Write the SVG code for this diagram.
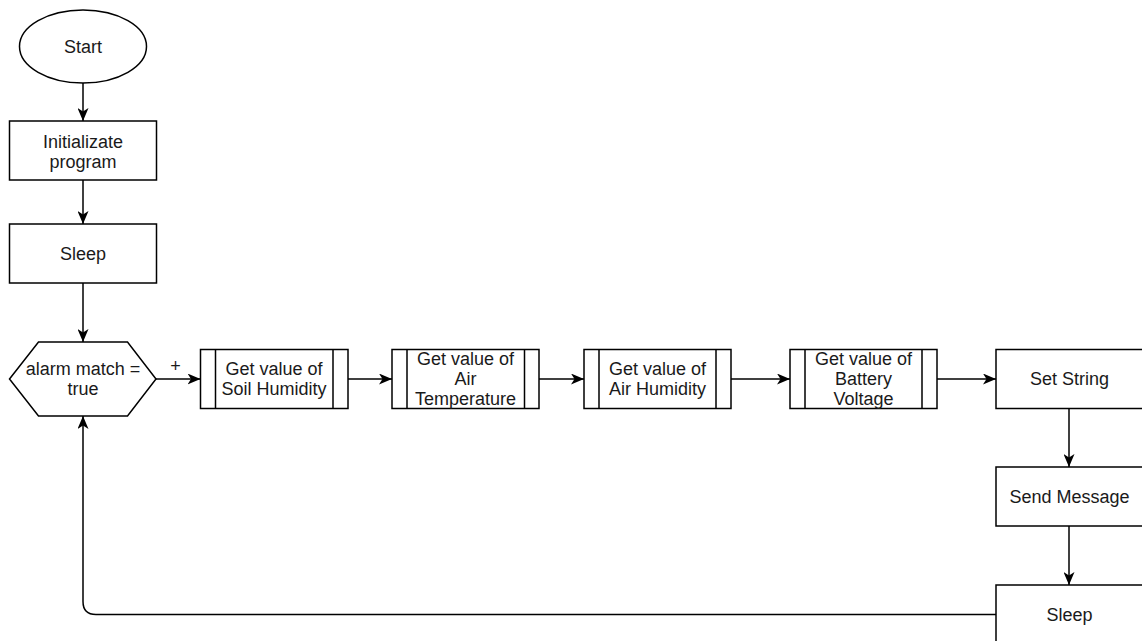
<svg xmlns="http://www.w3.org/2000/svg" width="1142" height="641" viewBox="0 0 1142 641">
  <defs>
    <style>
      .shape { fill: #ffffff; stroke: #000000; stroke-width: 1.5; }
      .inner { fill: none; stroke: #000000; stroke-width: 1.5; }
      .edge { fill: none; stroke: #000000; stroke-width: 1.5; }
      .label { font-family: "Liberation Sans", Arial, Helvetica, sans-serif; font-size: 18px; fill: #1a1a1a; text-anchor: middle; }
      .edge-label { font-family: "Liberation Sans", Arial, Helvetica, sans-serif; font-size: 18px; fill: #1a1a1a; text-anchor: middle; }
    </style>
    <marker id="arrow" markerUnits="userSpaceOnUse" markerWidth="13" markerHeight="11" viewBox="0 0 13 11" refX="13" refY="5.5" orient="auto">
      <path d="M0,0 L13,5.5 L0,11 L3.5,5.5 Z" fill="#000000"/>
    </marker>
  </defs>
  <rect width="1142" height="641" fill="#ffffff"/>

  <!-- connectors -->
  <g id="connectors">
    <path class="edge" d="M83,83 V121" marker-end="url(#arrow)"/>
    <path class="edge" d="M83,180 V224" marker-end="url(#arrow)"/>
    <path class="edge" d="M83,283 V342" marker-end="url(#arrow)"/>
    <path class="edge" d="M156,379 H200.5" marker-end="url(#arrow)"/>
    <text class="edge-label" x="175.5" y="372">+</text>
    <path class="edge" d="M348,379 H392" marker-end="url(#arrow)"/>
    <path class="edge" d="M539,379 H584" marker-end="url(#arrow)"/>
    <path class="edge" d="M731,379 H790" marker-end="url(#arrow)"/>
    <path class="edge" d="M937,379 H996" marker-end="url(#arrow)"/>
    <path class="edge" d="M1069,408 V467" marker-end="url(#arrow)"/>
    <path class="edge" d="M1069,526 V585" marker-end="url(#arrow)"/>
    <path class="edge" d="M996,614.5 H96 Q83,614.5 83,601.5 V416" marker-end="url(#arrow)"/>
  </g>

  <!-- start terminator -->
  <g id="start">
    <ellipse class="shape" cx="83" cy="46.5" rx="63.5" ry="36.5"/>
    <text class="label" x="83" y="53">Start</text>
  </g>

  <g id="init">
    <rect class="shape" x="9.5" y="121" width="147" height="59"/>
    <text class="label" x="83" y="148">Initializate</text>
    <text class="label" x="83" y="168">program</text>
  </g>

  <g id="sleep1">
    <rect class="shape" x="9.5" y="224" width="147" height="59"/>
    <text class="label" x="83" y="260">Sleep</text>
  </g>

  <!-- alarm check -->
  <g id="alarm">
    <polygon class="shape" points="9.5,379 38.5,342 127.5,342 156,379 127.5,416 38.5,416"/>
    <text class="label" x="83" y="375">alarm match =</text>
    <text class="label" x="83" y="395">true</text>
  </g>

  <!-- sensor subprocesses -->
  <g id="soil">
    <rect class="shape" x="200.5" y="349.5" width="147.5" height="59"/>
    <path class="inner" d="M215.5,349.5 V408.5 M333,349.5 V408.5"/>
    <text class="label" x="274" y="375">Get value of</text>
    <text class="label" x="274" y="395">Soil Humidity</text>
  </g>

  <g id="air-temp">
    <rect class="shape" x="392" y="349.5" width="147" height="59"/>
    <path class="inner" d="M407,349.5 V408.5 M524.5,349.5 V408.5"/>
    <text class="label" x="465.5" y="365">Get value of</text>
    <text class="label" x="465.5" y="385">Air</text>
    <text class="label" x="465.5" y="405">Temperature</text>
  </g>

  <g id="air-hum">
    <rect class="shape" x="584" y="349.5" width="147" height="59"/>
    <path class="inner" d="M599,349.5 V408.5 M716,349.5 V408.5"/>
    <text class="label" x="657.5" y="375">Get value of</text>
    <text class="label" x="657.5" y="395">Air Humidity</text>
  </g>

  <g id="battery">
    <rect class="shape" x="790" y="349.5" width="147" height="59"/>
    <path class="inner" d="M805,349.5 V408.5 M922,349.5 V408.5"/>
    <text class="label" x="863.5" y="365">Get value of</text>
    <text class="label" x="863.5" y="385">Battery</text>
    <text class="label" x="863.5" y="405">Voltage</text>
  </g>

  <g id="set-string">
    <rect class="shape" x="996" y="349.5" width="147" height="59"/>
    <text class="label" x="1069.5" y="385">Set String</text>
  </g>

  <g id="send-message">
    <rect class="shape" x="996" y="467" width="147" height="59"/>
    <text class="label" x="1069.5" y="502.5">Send Message</text>
  </g>

  <g id="sleep2">
    <rect class="shape" x="996" y="585" width="147" height="59"/>
    <text class="label" x="1069.5" y="621">Sleep</text>
  </g>
</svg>
